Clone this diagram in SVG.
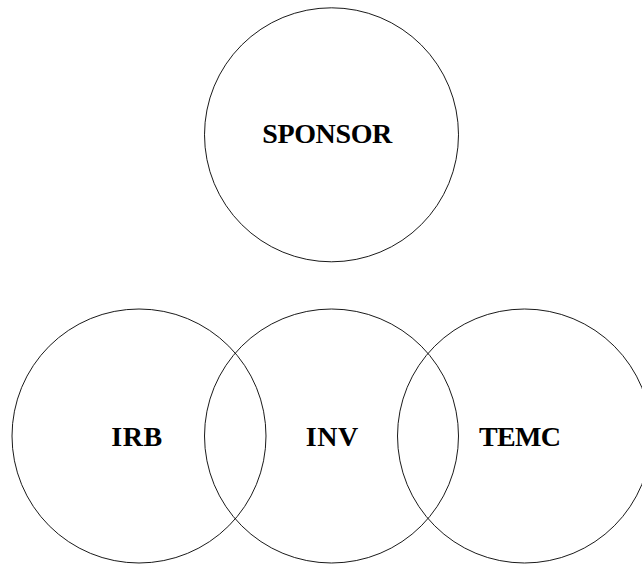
<svg xmlns="http://www.w3.org/2000/svg" width="642" height="565" viewBox="0 0 642 565">
  <style>
    .node circle { fill: none; stroke: #000; stroke-width: 0.9; }
    .node text { font-family: "Liberation Serif", "Times New Roman", serif; font-weight: bold; font-size: 28px; fill: #000; text-anchor: middle; }
  </style>
  <rect width="642" height="565" fill="#fff"/>
  <g id="connectors"></g>
  <g id="sponsor" class="node">
    <circle cx="331.5" cy="134.8" r="127"/>
    <text x="327.3" y="142.5" textLength="130" lengthAdjust="spacing">SPONSOR</text>
  </g>
  <g id="irb" class="node">
    <circle cx="139" cy="436" r="127"/>
    <text x="136.7" y="446" textLength="51" lengthAdjust="spacing">IRB</text>
  </g>
  <g id="inv" class="node">
    <circle cx="331.5" cy="436" r="127"/>
    <text x="332" y="446" textLength="52.7" lengthAdjust="spacing">INV</text>
  </g>
  <g id="temc" class="node">
    <circle cx="524.5" cy="436" r="127"/>
    <text x="520" y="446" textLength="82" lengthAdjust="spacing">TEMC</text>
  </g>
</svg>
